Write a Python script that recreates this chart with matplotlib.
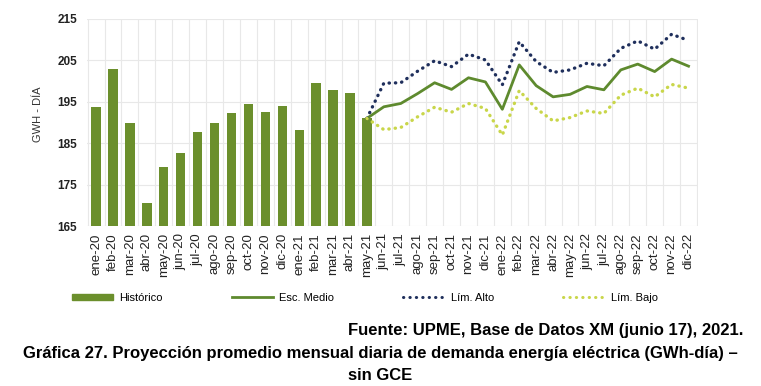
import matplotlib.pyplot as plt
from matplotlib.patches import Patch
from matplotlib.lines import Line2D

months = ['ene', 'feb', 'mar', 'abr', 'may', 'jun', 'jul', 'ago', 'sep', 'oct', 'nov', 'dic']
labels = [f"{m}-{y}" for y in ('20', '21', '22') for m in months]

historico = [193.8, 202.9, 189.8, 170.5, 179.3, 182.6, 187.8, 189.8, 192.3, 194.4,
             192.6, 194.1, 188.3, 199.6, 197.9, 197.2, 191.0]

# projections start at may-21 (index 16)
medio = [191.0, 193.8, 194.6, 197.0, 199.6, 198.0, 200.8, 199.8, 193.2, 203.9,
         198.9, 196.2, 196.8, 198.7, 197.9, 202.7, 204.1, 202.3, 205.3, 203.6]
alto = [191.0, 199.5, 199.6, 202.4, 204.9, 203.5, 206.5, 205.1, 199.1, 209.5,
        204.7, 202.1, 202.7, 204.3, 203.7, 207.9, 209.7, 207.7, 211.3, 209.8]
bajo = [191.0, 188.3, 188.8, 191.4, 193.7, 192.5, 194.6, 193.4, 187.0, 197.7,
        193.4, 190.4, 191.2, 192.8, 192.2, 196.6, 198.3, 196.2, 199.2, 198.3]

GREEN = '#6b8f2c'
LINE_GREEN = '#5e8a2e'
NAVY = '#1f2f5c'
YELLOW = '#c9d64a'
DOTS = (0, (0.1, 1.8))

plt.rcParams['font.family'] = ['Liberation Sans', 'DejaVu Sans']

fig = plt.figure(figsize=(7.61, 3.86), dpi=100)
ax = fig.add_axes([0.114, 0.414, 0.803, 0.537])

x_hist = list(range(len(historico)))
x_proj = list(range(16, 16 + len(medio)))

ax.bar(x_hist, historico, width=0.55, color=GREEN, zorder=3)
ax.plot(x_proj, medio, color=LINE_GREEN, linewidth=2, zorder=4)
ax.plot(x_proj, alto, color=NAVY, linewidth=2.4, linestyle=DOTS,
        dash_capstyle='round', zorder=4)
ax.plot(x_proj, bajo, color=YELLOW, linewidth=2.4, linestyle=DOTS,
        dash_capstyle='round', zorder=4)

ax.set_ylim(165, 215)
ax.set_yticks([165, 175, 185, 195, 205, 215])
ax.set_xlim(-0.55, len(labels) - 0.45)
ax.set_xticks(range(len(labels)))
ax.set_xticklabels(labels, rotation=90, fontsize=9.5, color='#222222')
ax.tick_params(axis='y', labelsize=8.5, colors='#222222', length=0, pad=7)
ax.tick_params(axis='x', length=0, pad=5)
for t in ax.get_yticklabels():
    t.set_fontweight('bold')

# grid
ax.set_xticks([i + 0.5 for i in range(-1, len(labels))], minor=True)
ax.grid(True, which='minor', axis='x', color='#e8e8e8', linewidth=0.8, zorder=0)
ax.grid(True, which='major', axis='y', color='#e8e8e8', linewidth=0.8, zorder=0)
ax.grid(False, which='major', axis='x')
ax.tick_params(which='minor', length=0)
for s in ax.spines.values():
    s.set_visible(False)

ax.set_ylabel('GWH - DÍA', fontsize=8, color='#333333')
ax.yaxis.set_label_coords(-0.072, 0.54)

handles = [
    Patch(color=GREEN),
    Line2D([], [], color=LINE_GREEN, linewidth=2),
    Line2D([], [], color=NAVY, linewidth=2.2, linestyle=(0, (0.1, 2.0)), dash_capstyle='round'),
    Line2D([], [], color=YELLOW, linewidth=2.2, linestyle=(0, (0.1, 2.0)), dash_capstyle='round'),
]
fig.legend(handles, ['Histórico', 'Esc. Medio', 'Lím. Alto', 'Lím. Bajo'],
           loc='center left', bbox_to_anchor=(0.094, 0.228), ncol=4, frameon=False,
           fontsize=8, handlelength=3.7, handleheight=0.55, handletextpad=0.6,
           columnspacing=6.2, borderpad=0, borderaxespad=0)

fig.text(0.977, 0.145, 'Fuente: UPME, Base de Datos XM (junio 17), 2021.',
         ha='right', va='center', fontsize=12, fontweight='bold')
fig.text(0.5, 0.083, 'Gráfica 27. Proyección promedio mensual diaria de demanda energía eléctrica (GWh-día) –',
         ha='center', va='center', fontsize=12, fontweight='bold')
fig.text(0.5, 0.026, 'sin GCE', ha='center', va='center', fontsize=12, fontweight='bold')

fig.savefig('out.png', dpi=100)
